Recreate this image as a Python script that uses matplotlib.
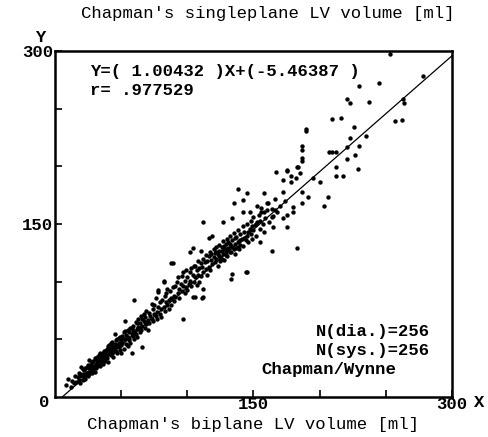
import matplotlib
matplotlib.use("Agg")
import matplotlib.pyplot as plt
import numpy as np

# regression shown on the chart
slope = 1.00432
intercept = -5.46387
r_value = ".977529"
n_dia = 256
n_sys = 256

# systolic (small) volumes, biplane x vs singleplane y  [ml]
sys_x = [8, 10, 12, 13, 14, 15, 16, 17, 18, 18, 19, 20, 20,
         21, 21, 22, 22, 23, 23, 24, 24, 25, 25, 26, 26, 26, 27, 27, 28, 28, 29, 29, 30, 30, 30,
         31, 31, 32, 32, 33, 33, 34, 34, 35, 35, 36, 36, 37, 37, 38, 38, 39, 39, 40, 40, 40,
         41, 41, 42, 42, 43, 43, 44, 44, 45, 45, 46, 46, 47, 47, 48, 48, 49, 49, 50, 50, 50,
         51, 51, 52, 52, 53, 53, 54, 54, 55, 55, 56, 56, 57, 57, 58, 58, 59, 59, 60, 60, 60,
         61, 61, 62, 62, 63, 63, 64, 64, 65, 65, 66, 66, 67, 67, 68, 68, 69, 69, 70, 70,
         71, 71, 72, 73, 73, 74, 74, 75, 75, 76, 76, 77, 77, 78, 78, 79, 79, 80, 80,
         81, 82, 82, 83, 83, 84, 84, 85, 85, 86, 86, 87, 88, 88, 89, 90, 90,
         19, 21, 23, 24, 25, 27, 28, 29, 31, 32, 33, 34, 35, 36, 37, 38, 39, 41, 42, 43,
         44, 45, 46, 47, 48, 49, 52, 53, 55, 56, 58, 59, 62, 64, 66, 68]
sys_y = [10, 16, 9, 14, 12, 18, 13, 17, 15, 21, 12, 26, 18,
         20, 15, 23, 18, 16, 25, 21, 19, 28, 22, 32, 20, 25, 23, 29, 21, 26, 24, 31, 27, 22, 34,
         29, 25, 35, 30, 28, 32, 38, 27, 31, 36, 33, 29, 40, 35, 31, 36, 42, 34, 37, 30, 44,
         39, 45, 36, 41, 48, 38, 42, 35, 55, 46, 40, 44, 50, 38, 43, 47, 52, 41, 45, 49, 38,
         53, 47, 42, 56, 66, 50, 46, 54, 58, 44, 51, 49, 60, 47, 38, 55, 53, 62, 84, 50, 57,
         65, 55, 59, 52, 68, 61, 56, 64, 70, 58, 43, 62, 66, 72, 60, 69, 75, 63, 67, 58,
         73, 64, 70, 81, 68, 76, 66, 72, 80, 70, 86, 74, 68, 91, 78, 72, 82, 76, 69,
         84, 100, 78, 88, 75, 82, 90, 80, 94, 84, 76, 92, 86, 80, 95, 88, 83,
         20, 24, 20, 26, 18, 26, 30, 27, 33, 27, 36, 31, 34, 38, 32, 40, 37, 42, 47, 44,
         39, 43, 49, 45, 51, 46, 50, 57, 52, 56, 60, 57, 64, 60, 68, 65]

# diastolic (large) volumes
dia_x = [88, 91, 91, 92, 93, 93, 94, 94, 95, 96, 96, 97, 97, 97, 98, 98, 99, 99, 100, 100,
         101, 102, 102, 103, 103, 104, 104, 105, 105, 106, 106, 107, 107, 108, 108, 109, 109, 110, 110,
         111, 111, 112, 112, 112, 113, 114, 114, 115, 115, 116, 116, 117, 117, 118, 118, 119, 120, 120,
         121, 121, 122, 122, 123, 123, 124, 124, 125, 125, 126, 127, 127, 128, 128, 129, 129, 130, 130,
         131, 131, 132, 132, 133, 133, 134, 134, 135, 135, 136, 136, 137, 138, 138, 139, 139, 140, 140,
         141, 142, 142, 143, 144, 144, 145, 145, 146, 147, 148, 148, 149, 150, 150,
         151, 152, 153, 154, 155, 156, 157, 158, 159, 160,
         161, 162, 164, 165, 166, 168, 170, 172, 174, 175,
         138, 145, 158, 187, 206, 203, 191, 187, 135, 142, 153, 156, 160, 166, 180, 180, 172, 164,
         112, 127, 134, 142, 147, 175, 165, 155, 164, 183, 145, 119, 116, 104, 110, 102, 89, 82, 78,
         106, 112, 167, 175, 183, 187, 212, 212, 218, 195, 200, 172, 178,
         122, 124, 126, 128, 130, 132, 134, 136, 138, 140, 126, 129, 133, 137, 143, 146, 149, 152, 155, 158]
dia_y = [116, 96, 87, 100, 90, 104, 94, 86, 98, 92, 105, 68, 108, 96, 101, 90, 110, 95, 104, 93,
         98, 108, 101, 112, 96, 87, 106, 114, 100, 114, 104, 110, 97, 118, 106, 112, 100, 116, 105,
         86, 113, 94, 120, 108, 117, 111, 123, 118, 106, 122, 113, 126, 110, 119, 124, 115, 121, 128,
         117, 125, 130, 120, 124, 114, 132, 127, 121, 118, 130, 135, 124, 119, 128, 133, 126, 122, 137,
         129, 134, 126, 140, 102, 131, 107, 136, 128, 142, 133, 124, 139, 130, 145, 135, 128, 141, 132,
         137, 148, 131, 143, 108, 136, 140, 150, 134, 146, 141, 153, 137, 145, 156,
         149, 140, 152, 158, 146, 160, 150, 143, 155, 162,
         168, 152, 163, 157, 172, 160, 166, 178, 170, 158,
         180, 177, 177, 178, 173, 166, 173, 168, 168, 171, 166, 164, 168, 162, 165, 160, 155, 156,
         152, 152, 155, 160, 160, 147, 147, 134, 127, 129, 108, 140, 138, 129, 127, 126, 116, 101, 93,
         87, 87, 195, 196, 199, 205, 199, 192, 192, 190, 186, 188, 186,
         126, 122, 127, 131, 128, 133, 130, 138, 134, 136, 120, 123, 126, 129, 138, 143, 148, 150, 153, 160]

# sparse points at the upper end
top_x = [253, 278, 263, 264, 257, 262, 230, 245, 221, 223, 237, 209, 216, 190, 226, 223, 235,
         230, 221, 187, 187, 209, 212, 227, 221, 187, 184, 229, 175, 178, 182, 185, 207, 190]
top_y = [297, 278, 258, 255, 239, 240, 270, 272, 258, 255, 256, 241, 242, 232, 234, 225, 226,
         218, 217, 218, 214, 212, 212, 210, 206, 207, 199, 198, 197, 192, 190, 194, 212, 231]

mono = ["Liberation Mono", "DejaVu Sans Mono"]
fs = 12.4

fig = plt.figure(figsize=(4.89, 4.37), dpi=100)
ax = fig.add_axes([0.1125, 0.0915, 0.8118, 0.7918])

for xs, ys in [(sys_x, sys_y), (dia_x, dia_y), (top_x, top_y)]:
    ax.scatter(xs, ys, s=10, c="black", marker="o", linewidths=0, zorder=3)

x0 = -intercept / slope
xl = np.array([x0, 300])
ax.plot(xl, slope * xl + intercept, color="black", lw=0.9, zorder=2)

ax.set_xlim(0, 300)
ax.set_ylim(0, 300)
ax.set_xticks([50, 100, 150, 200, 250, 300])
ax.set_xticklabels(["", "", "150", "", "", "300"])
ax.set_yticks([50, 100, 150, 200, 250, 300])
ax.set_yticklabels(["", "", "150", "", "", "300"])
ax.tick_params(direction="in", length=5, width=1.2, pad=1.5)
ax.tick_params(axis="x", pad=0)
for lab in ax.get_xticklabels() + ax.get_yticklabels():
    lab.set_family(mono)
    lab.set_fontsize(fs)
    lab.set_fontweight("bold")
for side in ["left", "bottom", "right", "top"]:
    ax.spines[side].set_linewidth(1.8)

fig.text(0.548, 0.968, "Chapman's singleplane LV volume [ml]", ha="center", va="center",
         family=mono, fontsize=fs)
fig.text(0.517, 0.028, "Chapman's biplane LV volume [ml]", ha="center", va="center",
         family=mono, fontsize=fs)
fig.text(0.082, 0.915, "Y", ha="center", va="center", family=mono, fontsize=fs, weight="bold")
fig.text(0.98, 0.078, "X", ha="center", va="center", family=mono, fontsize=fs, weight="bold")
fig.text(0.09, 0.078, "0", ha="center", va="center", family=mono, fontsize=fs, weight="bold")

ax.text(0.087, 0.94, f"Y=( {slope} )X+({intercept} )", transform=ax.transAxes,
        family=mono, fontsize=fs, weight="bold", va="center")
ax.text(0.087, 0.885, f"r= {r_value}", transform=ax.transAxes,
        family=mono, fontsize=fs, weight="bold", va="center")
ax.text(0.945, 0.19, f"N(dia.)={n_dia}", transform=ax.transAxes,
        family=mono, fontsize=fs, weight="bold", va="center", ha="right")
ax.text(0.945, 0.135, f"N(sys.)={n_sys}", transform=ax.transAxes,
        family=mono, fontsize=fs, weight="bold", va="center", ha="right")
ax.text(0.52, 0.08, "Chapman/Wynne", transform=ax.transAxes,
        family=mono, fontsize=fs, weight="bold", va="center", ha="left")

fig.savefig("out.png", dpi=100)
